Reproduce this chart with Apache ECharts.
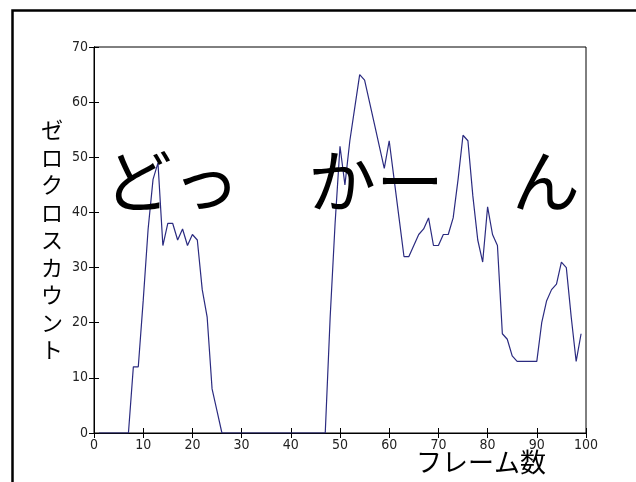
<!DOCTYPE html>
<html>
<head>
<meta charset="utf-8">
<script src="https://cdn.jsdelivr.net/npm/echarts@6/dist/echarts.min.js"></script>
<style>
html,body{margin:0;padding:0;background:#fff;overflow:hidden;}
#chart{width:636px;height:482px;}
</style>
</head>
<body>
<div id="chart"></div>
<script>
const frames = [1,2,3,4,5,6,7,8,9,10,11,12,13,14,15,16,17,18,19,20,21,22,23,24,25,26,27,28,29,30,31,32,33,34,35,36,37,38,39,40,41,42,43,44,45,46,47,48,49,50,51,52,53,54,55,56,57,58,59,60,61,62,63,64,65,66,67,68,69,70,71,72,73,74,75,76,77,78,79,80,81,82,83,84,85,86,87,88,89,90,91,92,93,94,95,96,97,98,99];
const zeroCrossCounts = [
  0,0,0,0,0,0,0,12,12,24,
  37,46,49,34,38,38,35,37,34,36,
  35,26,21,8,4,0,0,0,0,0,
  0,0,0,0,0,0,0,0,0,0,
  0,0,0,0,0,0,0,21,38,52,
  45,53,59,65,64,60,56,52,48,53,
  46,39,32,32,34,36,37,39,34,34,
  36,36,39,46,54,53,43,35,31,41,
  36,34,18,17,14,13,13,13,13,13,
  20,24,26,27,31,30,21,13,18
];
const xTicks = [0,10,20,30,40,50,60,70,80,90,100];
const yTicks = [0,10,20,30,40,50,60,70];
const xAxisTitle = 'フレーム数';
const yAxisTitle = 'ゼロクロスカウント';
const overlayText = 'どっ　かー　ん';

const tickFont = "'Liberation Sans Narrow','DejaVu Sans Condensed',sans-serif";
const cjkFont = "'Noto Sans CJK JP',sans-serif";

const seriesData = frames.map((f, i) => [f, zeroCrossCounts[i]]);

const chart = echarts.init(document.getElementById('chart'), null, {renderer: 'canvas'});
const xScale = {type: 'value', min: xTicks[0], max: xTicks[xTicks.length - 1], interval: xTicks[1] - xTicks[0]};
const yScale = {type: 'value', min: yTicks[0], max: yTicks[yTicks.length - 1], interval: yTicks[1] - yTicks[0]};

chart.setOption({
  animation: false,
  backgroundColor: '#fff',
  grid: {left: 94, right: 50, top: 47, bottom: 49, show: true, borderColor: '#000', borderWidth: 1, containLabel: false},
  xAxis: [
    Object.assign({}, xScale, {
      position: 'bottom',
      name: xAxisTitle,
      nameLocation: 'middle',
      nameGap: 16,
      nameMoveOverlap: false,
      nameTextStyle: {fontFamily: cjkFont, fontSize: 26, color: '#000', padding: [0, 0, 0, 282]},
      axisLine: {show: true, lineStyle: {color: '#000', width: 1}},
      axisTick: {show: true, inside: true, length: 5, lineStyle: {color: '#000'}},
      axisLabel: {show: true, margin: 5, fontFamily: tickFont, fontSize: 14, color: '#222'},
      splitLine: {show: false}
    }),
    Object.assign({}, xScale, {
      position: 'top',
      axisLine: {show: true, lineStyle: {color: '#000', width: 1}},
      axisTick: {show: true, inside: true, length: 5, lineStyle: {color: '#000'}},
      axisLabel: {show: false},
      splitLine: {show: false}
    })
  ],
  yAxis: [
    Object.assign({}, yScale, {
      position: 'left',
      name: yAxisTitle.split('').join('\n'),
      nameLocation: 'middle',
      nameRotate: 0,
      nameGap: 31,
      nameMoveOverlap: false,
      nameTextStyle: {fontFamily: cjkFont, fontSize: 22, lineHeight: 27.5, color: '#000', align: 'right', verticalAlign: 'middle', padding: [24, 0, 0, 0]},
      axisLine: {show: true, lineStyle: {color: '#000', width: 1}},
      axisTick: {show: true, inside: true, length: 5, lineStyle: {color: '#000'}},
      axisLabel: {show: true, margin: 6, fontFamily: tickFont, fontSize: 14, color: '#222'},
      splitLine: {show: false}
    }),
    Object.assign({}, yScale, {
      position: 'right',
      axisLine: {show: true, lineStyle: {color: '#000', width: 1}},
      axisTick: {show: true, inside: true, length: 5, lineStyle: {color: '#000'}},
      axisLabel: {show: false},
      splitLine: {show: false}
    })
  ],
  series: [{
    type: 'line',
    xAxisIndex: 0,
    yAxisIndex: 0,
    data: seriesData,
    showSymbol: false,
    symbol: 'none',
    lineStyle: {color: '#2b2b80', width: 1.2},
    z: 2
  }],
  graphic: [
    {
      type: 'rect',
      left: 10, top: 8,
      shape: {x: 0, y: 0, width: 1000, height: 1000},
      style: {fill: 'none', stroke: '#000', lineWidth: 2.5},
      silent: true,
      z: 100
    },
    {
      type: 'text',
      x: 104, y: 181,
      style: {text: overlayText, fontFamily: cjkFont, fontSize: 68, fill: '#000', textAlign: 'left', textVerticalAlign: 'middle'},
      z: 100
    }
  ]
});
</script>
</body>
</html>
